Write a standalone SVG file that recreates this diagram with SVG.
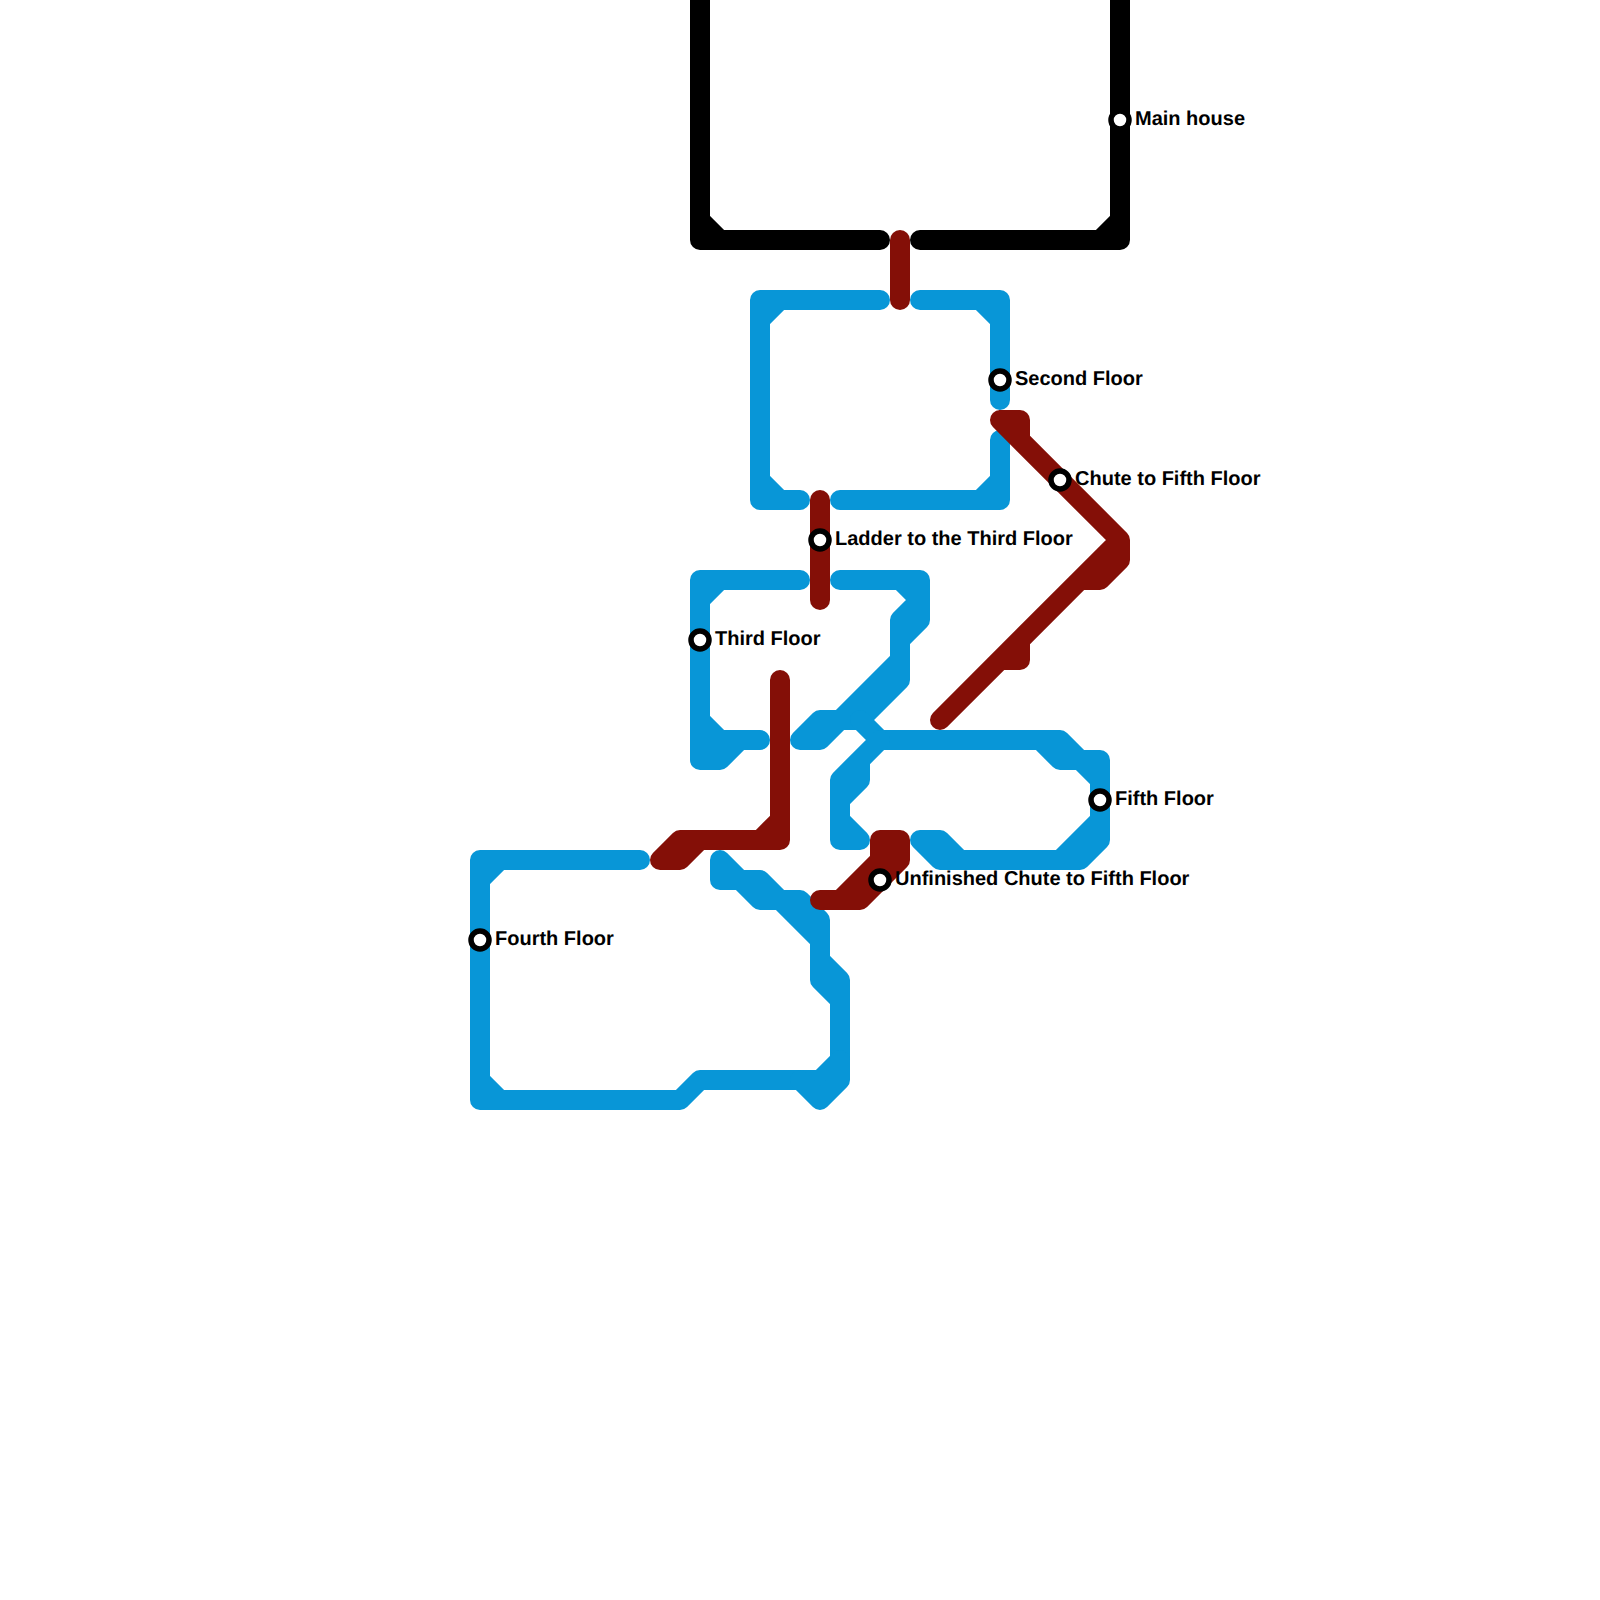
<svg xmlns="http://www.w3.org/2000/svg" width="1600" height="1600" viewBox="0 0 1600 1600">
<style>
.l{fill:none;stroke-width:20;stroke-linecap:round;stroke-linejoin:round}
.k{stroke:#000}.b{stroke:#0896d7}.r{stroke:#840f07}
.s{fill:#fff;stroke:#000;stroke-width:5.5}
text{font-family:"Liberation Sans",Arial,sans-serif;font-weight:700;font-size:20px;fill:#000;text-rendering:geometricPrecision}
</style>
<rect width="1600" height="1600" fill="#fff"/>
<g id="connectors">
<g id="line-main-house" class="l k">
<path d="M700,0V240H880M700,220L720,240"/>
<path d="M1120,0V240H920M1120,220L1100,240"/>
</g>
<g id="line-floors" class="l b">
<path d="M880,300H760V500H800M760,320L780,300M760,480L780,500"/>
<path d="M920,300H1000V400M1000,320L980,300"/>
<path d="M1000,440V500H840M1000,480L980,500"/>
<path d="M800,580H700V760H720L740,740M700,600L720,580M700,720L720,740H760M700,745H725"/>
<path d="M840,580H920V620L900,640V680L860,720H840L820,740H800L820,720H840L900,660M900,580L920,600L900,620V660"/>
<path d="M860,720L880,740H1060L1080,760H1100V840L1080,860H960L940,840H920L940,860H960M1040,740L1060,760H1080L1100,780M1100,820L1060,860"/>
<path d="M880,740L840,780V840H860L840,820M880,740L860,760V780L840,800"/>
<path d="M640,860H480V1100H680L700,1080H820L840,1060M480,880L500,860M480,1080L500,1100"/>
<path d="M840,1060V980L820,960V920L800,900H780L760,880H740L720,860V880H740L760,900H780L820,940M820,920V980L840,1000"/>
<path d="M840,1060V1080L820,1100L800,1080"/>
</g>
<g id="line-passages" class="l r">
<path d="M900,240V300"/>
<path d="M820,500V600"/>
<path d="M1000,420H1020V440L1120,540V560L1100,580H1080L1120,540L940,720M1000,420L1120,540M1020,640V660H1000"/>
<path d="M780,680V840H680L660,860H680L700,840M780,820L760,840"/>
<path d="M820,900H860L900,860V840H880V860L840,900"/>
</g>
</g>
<g id="station-main-house"><circle class="s" cx="1120" cy="120" r="9"/><text x="1135" y="125">Main house</text></g>
<g id="station-second-floor"><circle class="s" cx="1000" cy="380" r="9"/><text x="1015" y="385">Second Floor</text></g>
<g id="station-chute"><circle class="s" cx="1060" cy="480" r="9"/><text x="1075" y="485">Chute to Fifth Floor</text></g>
<g id="station-ladder"><circle class="s" cx="820" cy="540" r="9"/><text x="835" y="545">Ladder to the Third Floor</text></g>
<g id="station-third-floor"><circle class="s" cx="700" cy="640" r="9"/><text x="715" y="645">Third Floor</text></g>
<g id="station-fifth-floor"><circle class="s" cx="1100" cy="800" r="9"/><text x="1115" y="805">Fifth Floor</text></g>
<g id="station-unfinished"><circle class="s" cx="880" cy="880" r="9"/><text x="895" y="885">Unfinished Chute to Fifth Floor</text></g>
<g id="station-fourth-floor"><circle class="s" cx="480" cy="940" r="9"/><text x="495" y="945">Fourth Floor</text></g>
</svg>
